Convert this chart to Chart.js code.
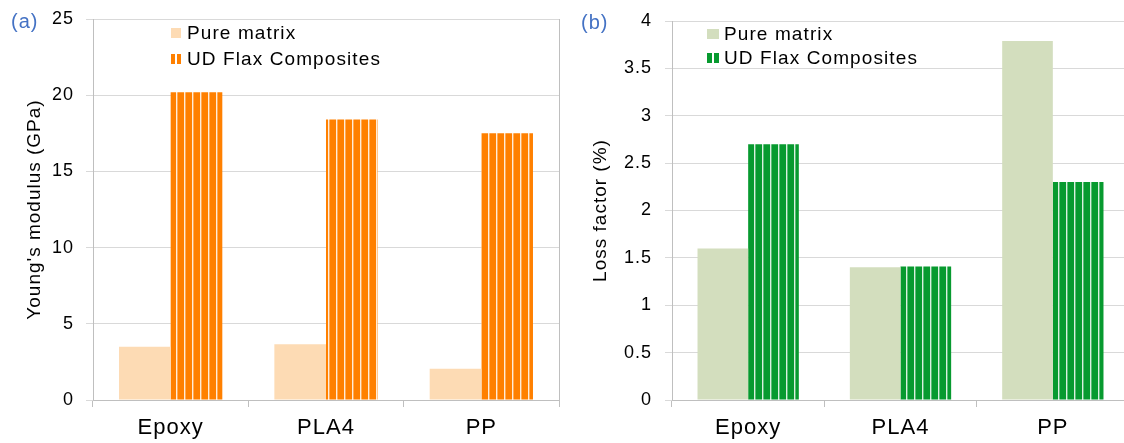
<!DOCTYPE html>
<html>
<head>
<meta charset="utf-8">
<script src="https://cdn.jsdelivr.net/npm/chart.js@4.4.1/dist/chart.umd.min.js"></script>
<style>
    html, body { margin: 0; padding: 0; overflow: hidden; background: #fff; width: 1124px; height: 443px; }
    body { position: relative; font-family: 'Liberation Sans', Arial, sans-serif; }
    canvas { position: absolute; top: 0; }
    #modulusChart { left: 0; }
    #lossChart { left: 562px; }
    .panel { position: absolute; font-size: 20px; line-height: 20px; color: #4472C4; letter-spacing: 1px; }
    .legend-row { position: absolute; display: flex; align-items: center; height: 19px; font-size: 19px; line-height: 19px; letter-spacing: 1.1px; color: #000; white-space: nowrap; }
    .sw { display: inline-block; height: 10px; margin-right: 6px; }
</style>
</head>
<body>
<canvas id="modulusChart" width="562" height="443"></canvas>
<canvas id="lossChart" width="570" height="443"></canvas>

<div class="panel" style="left:11px; top:11px;">(a)</div>
<div class="panel" style="left:581px; top:12px;">(b)</div>

<div class="legend-row" style="left:171px; top:23px;"><span class="sw" id="swA1" style="width:10px;"></span><span class="lt" id="ltA1"></span></div>
<div class="legend-row" style="left:171px; top:49px;"><span class="sw" id="swA2" style="width:10px;"></span><span class="lt" id="ltA2"></span></div>
<div class="legend-row" style="left:707px; top:24px;"><span class="sw" id="swB1" style="width:12px; margin-right:5px;"></span><span class="lt" id="ltB1"></span></div>
<div class="legend-row" style="left:707px; top:48px;"><span class="sw" id="swB2" style="width:12px; margin-right:5px;"></span><span class="lt" id="ltB2"></span></div>

<script>
// values
const categories = ['Epoxy', 'PLA4', 'PP'];
const seriesNames = ['Pure matrix', 'UD Flax Composites'];

const modulusPure = [3.5, 3.65, 2.05];
const modulusUD = [20.2, 18.4, 17.5];
const modulusTicks = [0, 5, 10, 15, 20, 25];

const lossPure = [1.6, 1.4, 3.79];
const lossUD = [2.7, 1.41, 2.3];
const lossTicks = [0, 0.5, 1, 1.5, 2, 2.5, 3, 3.5, 4];

const colors = {
    modulusPure: '#FDDBB4',
    modulusUD: '#FF8000',
    lossPure: '#D3DEBE',
    lossUD: '#079A2F',
    axis: '#BFBFBF',
    grid: '#D9D9D9',
};

Chart.defaults.font.family = "'Liberation Sans', Arial, sans-serif";
Chart.defaults.color = '#000';

// vertical white stripes like the Excel pattern fill
function stripes(color) {
    const c = document.createElement('canvas');
    c.width = 8;
    c.height = 8;
    const g = c.getContext('2d');
    g.fillStyle = color;
    g.fillRect(0, 0, 8, 8);
    g.fillStyle = 'rgba(255,255,255,0.85)';
    g.fillRect(0, 0, 1.4, 8);
    return g.createPattern(c, 'repeat');
}

// the original text is set a little wider than Liberation Sans
const spacing = {
    id: 'spacing',
    beforeUpdate: (chart) => { chart.ctx.letterSpacing = '1px'; },
    beforeDraw: (chart) => { chart.ctx.letterSpacing = '1px'; },
};

function makeChart(id, cfg) {
    const step = cfg.ticks[1] - cfg.ticks[0];
    const max = cfg.ticks[cfg.ticks.length - 1];
    const scales = {
        x: {
            grid: { offset: true, drawOnChartArea: false, drawTicks: true, tickLength: 7, color: colors.axis },
            border: { color: colors.axis },
            ticks: { font: { size: 22 }, padding: 8 },
            afterFit: (s) => { s.height = 43; },
        },
        y: {
            min: cfg.ticks[0],
            max: max,
            ticks: {
                stepSize: step,
                font: { size: 18 },
                padding: cfg.tickPad,
                callback: (v) => cfg.ticks.includes(v) ? String(v) : '',
            },
            grid: { color: colors.grid, tickLength: 7 },
            border: { color: colors.axis },
            title: {
                display: true,
                text: cfg.title,
                font: { size: 19 },
                padding: { top: cfg.titlePad, bottom: 0 },
            },
            afterFit: (s) => {
                s.width = cfg.axisWidth;
                // let the layout padding alone set the plot top
                s.paddingTop = 0;
                s.paddingBottom = 0;
            },
        },
    };
    if (cfg.rightBorder) {
        scales.y2 = {
            position: 'right',
            min: 0,
            max: max,
            ticks: { display: false },
            grid: { display: false },
            border: { display: true, color: colors.axis },
            afterFit: (s) => { s.width = 3; },
        };
    }
    return new Chart(document.getElementById(id), {
        type: 'bar',
        data: {
            labels: categories,
            datasets: [
                {
                    label: seriesNames[0],
                    data: cfg.pure,
                    backgroundColor: cfg.pureColor,
                    borderWidth: 0,
                },
                {
                    label: seriesNames[1],
                    data: cfg.ud,
                    backgroundColor: stripes(cfg.udColor),
                    borderWidth: 0,
                },
            ],
        },
        options: {
            responsive: false,
            animation: false,
            events: [],
            categoryPercentage: 0.665,
            barPercentage: 1.0,
            layout: { padding: { top: cfg.top, left: 0, right: cfg.rightBorder ? 0 : 3, bottom: 0 } },
            scales: scales,
            plugins: {
                legend: { display: false },
                tooltip: { enabled: false },
            },
        },
        plugins: [spacing],
    });
}

makeChart('modulusChart', {
    pure: modulusPure,
    ud: modulusUD,
    ticks: modulusTicks,
    pureColor: colors.modulusPure,
    udColor: colors.modulusUD,
    title: "Young's modulus (GPa)",
    titlePad: 23,
    tickPad: 12,
    axisWidth: 93,
    top: 19,
    rightBorder: true,
});

makeChart('lossChart', {
    pure: lossPure,
    ud: lossUD,
    ticks: lossTicks,
    pureColor: colors.lossPure,
    udColor: colors.lossUD,
    title: 'Loss factor (%)',
    titlePad: 27,
    tickPad: 13,
    axisWidth: 110,
    top: 21,
    rightBorder: false,
});

// legends sit inside the plot area, like the original
function swatch(id, color, striped) {
    const el = document.getElementById(id);
    el.style.background = striped
        ? `linear-gradient(to right, ${color} 0 42%, #fff 42% 58%, ${color} 58% 100%)`
        : color;
}
swatch('swA1', colors.modulusPure, false);
swatch('swA2', colors.modulusUD, true);
swatch('swB1', colors.lossPure, false);
swatch('swB2', colors.lossUD, true);
['ltA1', 'ltB1'].forEach(id => { document.getElementById(id).textContent = seriesNames[0]; });
['ltA2', 'ltB2'].forEach(id => { document.getElementById(id).textContent = seriesNames[1]; });
</script>
</body>
</html>
